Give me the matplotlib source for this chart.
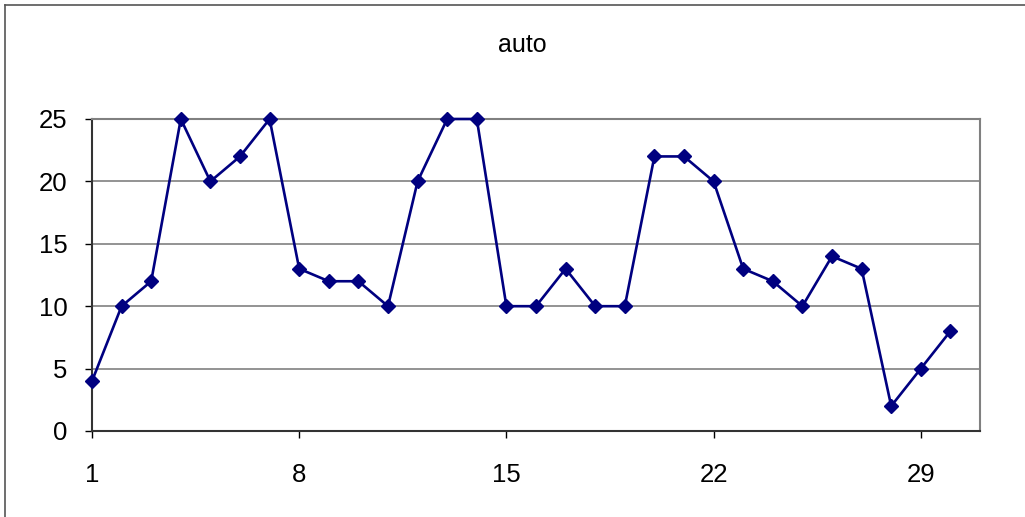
import matplotlib.pyplot as plt
from matplotlib.lines import Line2D

plt.rcParams["font.family"] = ["Liberation Sans", "DejaVu Sans"]

# ── data ─────────────────────────────────────────────────────────
days = list(range(1, 31))
auto = [4, 10, 12, 25, 20, 22, 25, 13, 12, 12, 10, 20, 25, 25, 10,
        10, 13, 10, 10, 22, 22, 20, 13, 12, 10, 14, 13, 2, 5, 8]
x_ticks = [1, 8, 15, 22, 29]
y_ticks = [0, 5, 10, 15, 20, 25]

# ── figure ───────────────────────────────────────────────────────
fig = plt.figure(figsize=(10.25, 5.17), dpi=100)
ax = fig.add_axes([92 / 1025, 1 - 431 / 517, 888 / 1025, 312 / 517])

ax.plot(days, auto, color="#000080", linewidth=1.9, marker="D",
        markersize=7.5, markerfacecolor="#000080", markeredgecolor="#000080",
        clip_on=False, zorder=3)

ax.set_xlim(1, 31)
ax.set_ylim(0, 25)
ax.set_xticks(x_ticks)
ax.set_yticks(y_ticks)
ax.yaxis.grid(True, color="#808080", linewidth=1.2)
ax.set_axisbelow(True)

ax.tick_params(axis="both", direction="out", length=5, width=1, colors="black",
               labelsize=18.5)
ax.tick_params(axis="y", pad=12.5)
ax.tick_params(axis="x", pad=18)

for side in ("left", "bottom"):
    ax.spines[side].set_color("#333333")
    ax.spines[side].set_linewidth(1.5)
for side in ("top", "right"):
    ax.spines[side].set_color("#808080")
    ax.spines[side].set_linewidth(1.5)

fig.text(522 / 1025, 1 - 45 / 517, "auto", ha="center", va="center", fontsize=18)

# outer chart border (left and top edges)
fig.add_artist(Line2D([5 / 1025, 5 / 1025], [0, 1 - 5 / 517], transform=fig.transFigure,
                      color="#555555", linewidth=1.2))
fig.add_artist(Line2D([5 / 1025, 1], [1 - 5 / 517, 1 - 5 / 517], transform=fig.transFigure,
                      color="#555555", linewidth=1.2))

fig.savefig("out.png", dpi=100)
